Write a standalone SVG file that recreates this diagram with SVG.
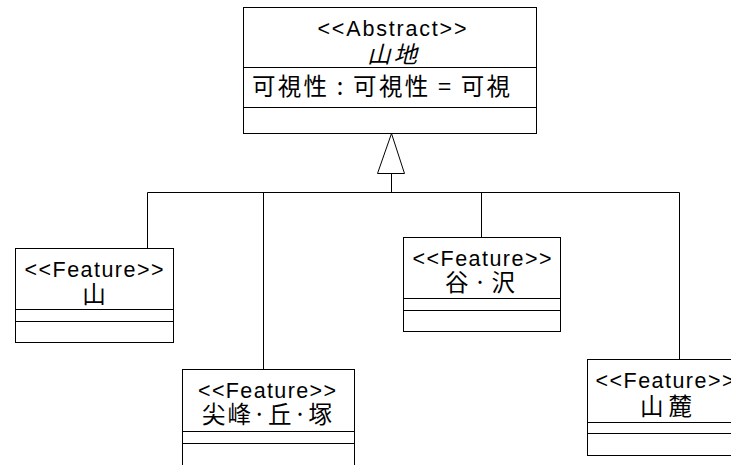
<svg xmlns="http://www.w3.org/2000/svg" width="731" height="465" viewBox="0 0 731 465">
<style>
.box{fill:#fff;stroke:#000;stroke-width:1}
.ln{stroke:#000;stroke-width:1;fill:none}
.t{font-family:"Liberation Sans","Noto Sans CJK JP",sans-serif;font-size:21.5px;fill:#000}
.c{font-family:"Noto Sans CJK JP","Liberation Sans",sans-serif;font-size:23.5px;fill:#000}
.m{text-anchor:middle}
</style>
<rect width="731" height="465" fill="#fff"/>
<g id="connectors">
<polyline class="ln" points="147.5,248 147.5,192.5 679.5,192.5 679.5,359"/>
<line class="ln" x1="263.5" y1="192.5" x2="263.5" y2="369"/>
<line class="ln" x1="481.5" y1="192.5" x2="481.5" y2="237"/>
<line class="ln" x1="391.5" y1="173" x2="391.5" y2="192.5"/>
<polygon class="box" points="391.5,133.5 377.5,173.5 404.5,173.5"/>
</g>
<g id="abstract">
<rect class="box" x="243.5" y="7.5" width="293" height="126"/>
<line class="ln" x1="243.5" y1="67.5" x2="536.5" y2="67.5"/>
<line class="ln" x1="243.5" y1="107.5" x2="536.5" y2="107.5"/>
<text class="t m" x="392" y="35.5" textLength="149" lengthAdjust="spacing">&lt;&lt;Abstract&gt;&gt;</text>
<text class="c m" x="392" y="62.5" font-style="italic" textLength="50" lengthAdjust="spacing">山地</text>
<text class="c" x="252" y="95" textLength="258" lengthAdjust="spacing">可視性 : 可視性 = 可視</text>
</g>
<g id="yama">
<rect class="box" x="15.5" y="248.5" width="158" height="94"/>
<line class="ln" x1="15.5" y1="309.5" x2="173.5" y2="309.5"/>
<line class="ln" x1="15.5" y1="321.5" x2="173.5" y2="321.5"/>
<text class="t m" x="94" y="276.5" textLength="139" lengthAdjust="spacing">&lt;&lt;Feature&gt;&gt;</text>
<text class="c m" x="94" y="303">山</text>
</g>
<g id="senpo">
<rect class="box" x="182.5" y="369.5" width="172" height="110"/>
<line class="ln" x1="182.5" y1="431.5" x2="354.5" y2="431.5"/>
<line class="ln" x1="182.5" y1="443.5" x2="354.5" y2="443.5"/>
<text class="t m" x="267" y="397.5" textLength="138" lengthAdjust="spacing">&lt;&lt;Feature&gt;&gt;</text>
<text class="c m" x="267" y="423" textLength="130" lengthAdjust="spacing">尖峰·丘·塚</text>
</g>
<g id="tani">
<rect class="box" x="403.5" y="237.5" width="157" height="94"/>
<line class="ln" x1="403.5" y1="298.5" x2="560.5" y2="298.5"/>
<line class="ln" x1="403.5" y1="310.5" x2="560.5" y2="310.5"/>
<text class="t m" x="482" y="265.5" textLength="139" lengthAdjust="spacing">&lt;&lt;Feature&gt;&gt;</text>
<text class="c m" x="480" y="290.5" textLength="70" lengthAdjust="spacing">谷·沢</text>
</g>
<g id="sanroku">
<rect class="box" x="587.5" y="359.5" width="158" height="96"/>
<line class="ln" x1="587.5" y1="422.5" x2="745.5" y2="422.5"/>
<line class="ln" x1="587.5" y1="433.5" x2="745.5" y2="433.5"/>
<text class="t m" x="665" y="387.5" textLength="139" lengthAdjust="spacing">&lt;&lt;Feature&gt;&gt;</text>
<text class="c m" x="666" y="415" textLength="52" lengthAdjust="spacing">山麓</text>
</g>
</svg>
